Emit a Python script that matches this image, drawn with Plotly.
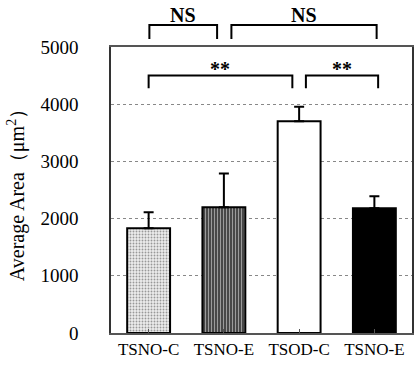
import plotly.graph_objects as go

categories = ["TSNO-C", "TSNO-E", "TSOD-C", "TSNO-E "]
means = [1830, 2200, 3700, 2180]
errors = [280, 590, 255, 210]
bar_colors = ["#ececec", "#484848", "#ffffff", "#000000"]
pattern_shapes = [".", "|", "", ""]
pattern_fg = ["#8a8a8a", "#333333", "#000000", "#000000"]
y_ticks = [0, 1000, 2000, 3000, 4000, 5000]

# significance brackets: (x_start, x_end, label)
sig_inside = [(0.0, 1.91, "**"), (2.09, 3.05, "**")]
sig_inside_y = (4280, 4500)
sig_above = [(0.01, 0.91, "NS"), (1.1, 3.03, "NS")]
sig_above_y = (1.028, 1.077)
sig_above_label_y = 1.113

font_family = "Liberation Serif, Times New Roman, serif"

fig = go.Figure()
fig.add_trace(go.Bar(
    x=list(range(len(categories))),
    y=means,
    width=0.57,
    marker=dict(
        color=bar_colors,
        line=dict(color="#000000", width=2),
        pattern=dict(shape=pattern_shapes, fgcolor=pattern_fg, size=3, solidity=0.3),
    ),
    error_y=dict(type="data", array=errors, arrayminus=[0] * len(errors), symmetric=False,
                 color="#000000", thickness=2, width=5),
    showlegend=False,
))

shapes = []
annotations = []
y0, y1 = sig_inside_y
for xa, xb, lab in sig_inside:
    shapes.append(dict(type="path", xref="x", yref="y",
                       path=f"M {xa},{y0} L {xa},{y1} L {xb},{y1} L {xb},{y0}",
                       line=dict(color="#000000", width=2)))
    annotations.append(dict(x=(xa + xb) / 2, y=y1, xref="x", yref="y", text=f"<b>{lab}</b>",
                            showarrow=False, yanchor="bottom", yshift=-6,
                            font=dict(family=font_family, size=20, color="#000000")))
p0, p1 = sig_above_y
for xa, xb, lab in sig_above:
    shapes.append(dict(type="path", xref="x", yref="paper",
                       path=f"M {xa},{p0} L {xa},{p1} L {xb},{p1} L {xb},{p0}",
                       line=dict(color="#000000", width=2)))
    annotations.append(dict(x=(xa + xb) / 2, y=sig_above_label_y, xref="x", yref="paper",
                            text=f"<b>{lab}</b>", showarrow=False, yanchor="middle",
                            font=dict(family=font_family, size=20, color="#000000")))

fig.update_layout(
    width=420, height=365,
    margin=dict(l=111, r=6, t=47, b=32),
    paper_bgcolor="white", plot_bgcolor="white",
    shapes=shapes, annotations=annotations,
    font=dict(family=font_family, color="#000000"),
    xaxis=dict(
        range=[-0.5, 3.5],
        tickmode="array", tickvals=list(range(len(categories))), ticktext=[c.strip() for c in categories],
        ticks="inside", tickson="boundaries", ticklen=4, tickcolor="#555555",
        showline=True, linecolor="#555555", linewidth=1.5, mirror=True,
        showgrid=False, tickfont=dict(size=17, family=font_family, color="#000000"),
    ),
    yaxis=dict(
        range=[0, 5000], tickvals=y_ticks, ticks="",
        showline=True, linecolor="#333333", linewidth=1.5, mirror=True,
        showgrid=True, gridcolor="#888888", griddash="dot", gridwidth=1,
        zeroline=False,
        tickfont=dict(size=19, family=font_family, color="#000000"),
        ticklabelstandoff=27,
        title=dict(text="Average Area（μm<sup>2</sup>）", font=dict(size=20, family=font_family, color="#000000"),
                   standoff=10),
    ),
)

fig.write_html("out.html", config={"displayModeBar": False},
               post_script="document.body.style.margin='0';")
